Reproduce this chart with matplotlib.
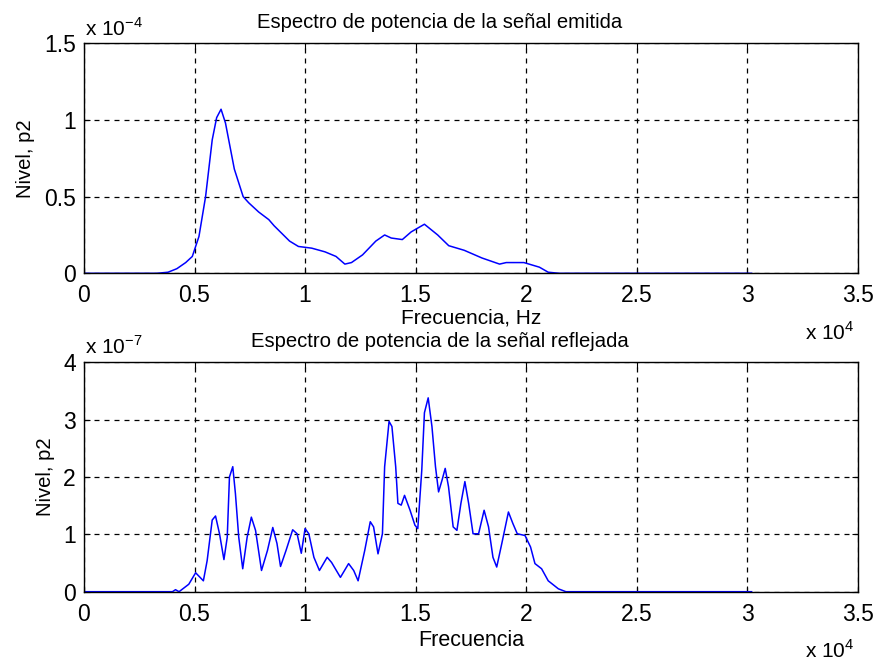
import matplotlib as mpl; mpl.use("Agg")
import matplotlib.pyplot as plt
from matplotlib.ticker import FuncFormatter, MultipleLocator

mpl.rcParams.update({"font.family": "Liberation Sans", "mathtext.fontset": "custom",
                     "mathtext.rm": "Liberation Sans", "font.size": 14})

# emitted signal spectrum (Hz, level in units of 1e-4)
f_emit = [0, 3300, 3800, 4200, 4600, 4900, 5200, 5500, 5800, 6000,
          6200, 6400, 6800, 7200, 7450, 7900, 8360, 8600, 9300, 9700,
          10300, 10900, 11400, 11800, 12100, 12600, 13200, 13600, 13900, 14400,
          14800, 15400, 16000, 16500, 17200, 18000, 18800, 19100, 19900, 20600,
          21000, 21500, 30200]
p_emit = [0, 0, 0.007, 0.03, 0.07, 0.11, 0.24, 0.50, 0.87, 1.015,
          1.07, 0.98, 0.68, 0.50, 0.46, 0.40, 0.35, 0.31, 0.21, 0.175,
          0.164, 0.14, 0.11, 0.06, 0.07, 0.12, 0.21, 0.25, 0.23, 0.22,
          0.27, 0.32, 0.25, 0.18, 0.15, 0.10, 0.06, 0.07, 0.07, 0.04,
          0.007, 0, 0]

# reflected signal spectrum (Hz, level in units of 1e-7)
f_refl = [0, 4000, 4140, 4300, 4740, 5050, 5400, 5570, 5800, 5950,
          6130, 6330, 6480, 6580, 6730, 6850, 7000, 7180, 7380, 7570,
          7760, 8030, 8300, 8540, 8730, 8890, 9140, 9440, 9640, 9830,
          10000, 10170, 10400, 10650, 11000, 11200, 11600, 11970, 12200, 12400,
          12700, 12950, 13100, 13300, 13500, 13600, 13800, 13930, 14100, 14200,
          14350, 14500, 14750, 14970, 15100, 15280, 15400, 15570, 15740, 15900,
          16040, 16200, 16340, 16490, 16700, 16870, 17050, 17230, 17400, 17600,
          17850, 18100, 18300, 18500, 18670, 18900, 19200, 19400, 19600, 19950,
          20200, 20400, 20700, 21000, 21460, 21800, 30200]
p_refl = [0, 0, 0.035, 0.0, 0.13, 0.33, 0.19, 0.54, 1.25, 1.32,
          1.01, 0.56, 0.95, 2.0, 2.18, 1.71, 0.95, 0.40, 0.95, 1.30,
          1.07, 0.37, 0.72, 1.12, 0.84, 0.44, 0.72, 1.08, 1.01, 0.67,
          1.10, 1.01, 0.60, 0.37, 0.60, 0.51, 0.25, 0.49, 0.37, 0.19,
          0.72, 1.22, 1.13, 0.66, 1.01, 2.18, 2.97, 2.88, 2.18, 1.54,
          1.51, 1.68, 1.42, 1.16, 1.10, 2.12, 3.12, 3.38, 2.88, 2.18,
          1.74, 1.95, 2.15, 1.83, 1.13, 1.07, 1.54, 1.92, 1.54, 1.01,
          1.01, 1.42, 1.13, 0.60, 0.43, 0.84, 1.39, 1.19, 1.01, 0.98,
          0.78, 0.49, 0.40, 0.19, 0.05, 0, 0]

W, H = 874, 661
fig = plt.figure(figsize=(W / 100, H / 100), dpi=100)
ax1 = fig.add_axes([84 / W, 1 - 273.3 / H, 773.7 / W, 230 / H])
ax2 = fig.add_axes([84 / W, 1 - 591.7 / H, 773.7 / W, 229.4 / H])


def style(ax, yscale, ymax, ystep):
    ax.set_xlim(0, 35000)
    ax.set_ylim(0, ymax)
    ax.xaxis.set_major_locator(MultipleLocator(5000))
    ax.yaxis.set_major_locator(MultipleLocator(ystep))
    ax.xaxis.set_major_formatter(FuncFormatter(lambda v, p: f"{v / 1e4:g}"))
    ax.yaxis.set_major_formatter(FuncFormatter(lambda v, p: f"{v / yscale:g}"))
    ax.grid(True, color="black", linestyle=(0, (4, 4)), linewidth=0.9)
    ax.tick_params(direction="in", length=4, labelsize=16.5, top=True, right=True)
    ax.tick_params(axis="x", pad=8)
    ax.tick_params(axis="y", pad=6)
    for s in ax.spines.values():
        s.set_linewidth(1.0)


ax1.plot(f_emit, [v * 1e-4 for v in p_emit], color="#0000ff", linewidth=1.1)
style(ax1, 1e-4, 1.5e-4, 0.5e-4)
ax1.set_title("Espectro de potencia de la señal emitida", fontsize=14.6, x=0.46, pad=11)
ax1.set_xlabel("Frecuencia, Hz", fontsize=15, labelpad=1)
ax1.set_ylabel("Nivel, p2", fontsize=14.6, labelpad=6)

ax2.plot(f_refl, [v * 1e-7 for v in p_refl], color="#0000ff", linewidth=1.1)
style(ax2, 1e-7, 4e-7, 1e-7)
ax2.set_title("Espectro de potencia de la señal reflejada", fontsize=14.6, x=0.46, pad=11)
ax2.set_xlabel("Frecuencia", fontsize=15.5, labelpad=3)
ax2.set_ylabel("Nivel, p2", fontsize=14.6, labelpad=6)

# MATLAB-style exponent labels
fig.text(85 / W, 1 - 29 / H, "x 10$^{-4}$", fontsize=15, va="center")
fig.text(85 / W, 1 - 347 / H, "x 10$^{-7}$", fontsize=15, va="center")
fig.text(805 / W, 1 - 333 / H, "x 10$^{4}$", fontsize=15, va="center")
fig.text(805 / W, 1 - 650 / H, "x 10$^{4}$", fontsize=15, va="center")

fig.savefig("out.png", dpi=100)
